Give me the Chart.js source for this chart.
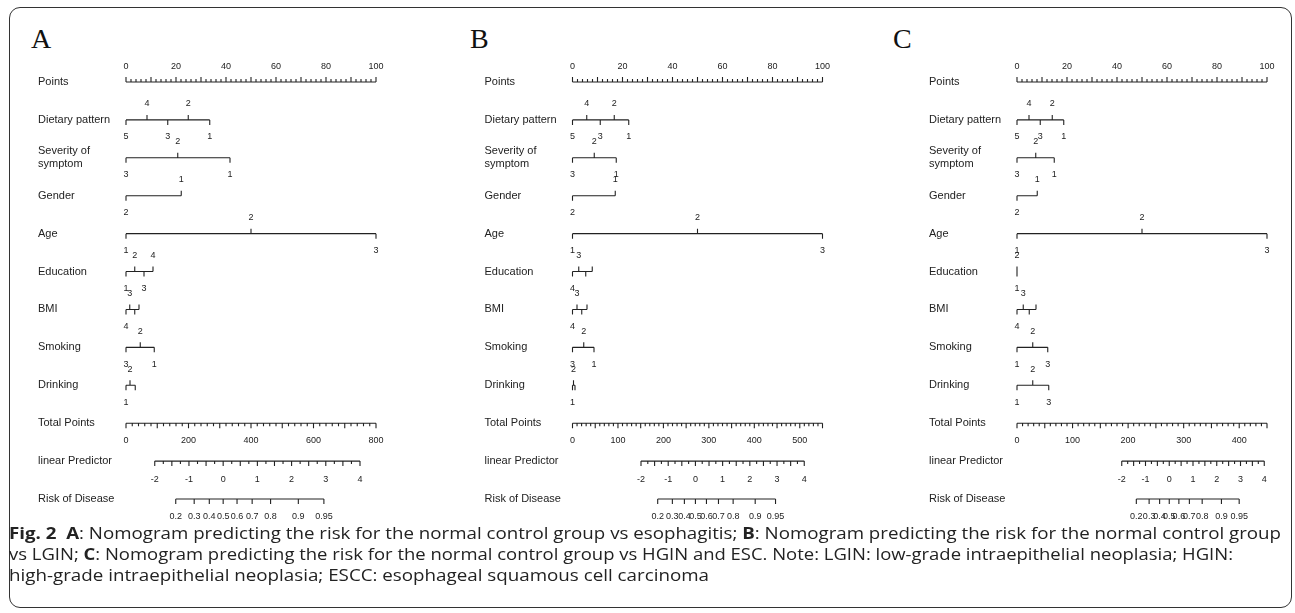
<!DOCTYPE html>
<html>
<head>
<meta charset="utf-8">
<script src="https://cdn.jsdelivr.net/npm/chart.js@4.4.1/dist/chart.umd.min.js"></script>
<style>
body{margin:0;background:#fff;width:1295px;height:613px;overflow:hidden;position:relative;}
#frame{position:absolute;left:9px;top:7px;width:1283px;height:601px;border:1.3px solid #333;border-radius:11px;box-sizing:border-box;}
canvas{position:absolute;top:0;}
.letter{position:absolute;top:25px;font-family:"Liberation Serif","Times New Roman",serif;font-size:28px;line-height:28px;color:#111;}
.cap{position:absolute;left:9px;white-space:nowrap;font-family:"Open Sans",sans-serif;font-size:16px;line-height:20px;color:#222;transform-origin:0 50%;}
</style>
</head>
<body>
<div id="frame"></div>
<div class="letter" style="left:31px">A</div>
<div class="letter" style="left:470px">B</div>
<div class="letter" style="left:893px">C</div>
<canvas id="nomoA" width="440" height="530" style="left:0px"></canvas>
<canvas id="nomoB" width="440" height="530" style="left:440px"></canvas>
<canvas id="nomoC" width="415" height="530" style="left:880px"></canvas>
<div class="cap" id="cap1" style="top:523px"><b>Fig. 2</b>&nbsp;&nbsp;<b>A</b>: Nomogram predicting the risk for the normal control group vs esophagitis; <b>B</b>: Nomogram predicting the risk for the normal control group</div>
<div class="cap" id="cap2" style="top:544px">vs LGIN; <b>C</b>: Nomogram predicting the risk for the normal control group vs HGIN and ESC. Note: LGIN: low-grade intraepithelial neoplasia; HGIN:</div>
<div class="cap" id="cap3" style="top:565px">high-grade intraepithelial neoplasia; ESCC: esophageal squamous cell carcinoma</div>
<script>
console.log("nomogram");
// row names, top to bottom
const rowNames = ['Points', 'Dietary pattern', 'Severity of\nsymptom', 'Gender', 'Age', 'Education',
    'BMI', 'Smoking', 'Drinking', 'Total Points', 'linear Predictor', 'Risk of Disease'];
const pointLabels = [0, 20, 40, 60, 80, 100];
const lpLabels = [-2, -1, 0, 1, 2, 3, 4];
const riskLabels = [0.2, 0.3, 0.4, 0.5, 0.6, 0.7, 0.8, 0.9, 0.95];
const totalLabelsA = [0, 200, 400, 600, 800];
const totalLabelsB = [0, 100, 200, 300, 400, 500];
const totalLabelsC = [0, 100, 200, 300, 400];

// levels: [label, points, side] ('u' label above, 'd' label below)
const dietA = [['5', 0, 'd'], ['4', 8.4, 'u'], ['3', 16.7, 'd'], ['2', 24.9, 'u'], ['1', 33.5, 'd']];
const severityA = [['3', 0, 'd'], ['2', 20.7, 'u'], ['1', 41.6, 'd']];
const genderA = [['2', 0, 'd'], ['1', 22.1, 'u']];
const ageA = [['1', 0, 'd'], ['2', 50, 'u'], ['3', 100, 'd']];
const educationA = [['1', 0, 'd'], ['2', 3.5, 'u'], ['3', 7.2, 'd'], ['4', 10.8, 'u']];
const bmiA = [['4', 0, 'd'], ['3', 1.5, 'u'], ['', 3.5, 'd'], ['', 5.2, 'u']];
const smokingA = [['3', 0, 'd'], ['2', 5.7, 'u'], ['1', 11.3, 'd']];
const drinkingA = [['1', 0, 'd'], ['2', 1.6, 'u'], ['', 3.7, 'd']];

const dietB = [['5', 0, 'd'], ['4', 5.7, 'u'], ['3', 11.1, 'd'], ['2', 16.7, 'u'], ['1', 22.5, 'd']];
const severityB = [['3', 0, 'd'], ['2', 8.7, 'u'], ['1', 17.5, 'd']];
const genderB = [['2', 0, 'd'], ['1', 17.1, 'u']];
const ageB = [['1', 0, 'd'], ['2', 50, 'u'], ['3', 100, 'd']];
const educationB = [['4', 0, 'd'], ['3', 2.5, 'u'], ['', 5.3, 'd'], ['', 7.9, 'u']];
const bmiB = [['4', 0, 'd'], ['3', 1.8, 'u'], ['', 3.7, 'd'], ['', 5.8, 'u']];
const smokingB = [['3', 0, 'd'], ['2', 4.5, 'u'], ['1', 8.6, 'd']];
const drinkingB = [['1', 0, 'd'], ['2', 0.4, 'u'], ['', 1.0, 'd']];

const dietC = [['5', 0, 'd'], ['4', 4.8, 'u'], ['3', 9.3, 'd'], ['2', 14.1, 'u'], ['1', 18.7, 'd']];
const severityC = [['3', 0, 'd'], ['2', 7.5, 'u'], ['1', 14.9, 'd']];
const genderC = [['2', 0, 'd'], ['1', 8.1, 'u']];
const ageC = [['1', 0, 'd'], ['2', 50, 'u'], ['3', 100, 'd']];
const educationC = [['2', 0, 'u'], ['1', 0, 'd']];
const bmiC = [['4', 0, 'd'], ['3', 2.5, 'u'], ['', 4.9, 'd'], ['', 7.6, 'u']];
const smokingC = [['1', 0, 'd'], ['2', 6.3, 'u'], ['3', 12.3, 'd']];
const drinkingC = [['1', 0, 'd'], ['2', 6.3, 'u'], ['3', 12.7, 'd']];

// total points max and where the linear predictor axis sits on the points scale
const panels = [
    {id: 'nomoA', left: 126, right: 64, vars: [dietA, severityA, genderA, ageA, educationA, bmiA, smokingA, drinkingA],
        totalMax: 800, totalLabels: totalLabelsA, totalStep: 20, totalMajor: 100, lpFrom: 11.5, lpTo: 93.6},
    {id: 'nomoB', left: 132.5, right: 57.5, vars: [dietB, severityB, genderB, ageB, educationB, bmiB, smokingB, drinkingB],
        totalMax: 550, totalLabels: totalLabelsB, totalStep: 10, totalMajor: 50, lpFrom: 27.4, lpTo: 92.7},
    {id: 'nomoC', left: 137, right: 28, vars: [dietC, severityC, genderC, ageC, educationC, bmiC, smokingC, drinkingC],
        totalMax: 450, totalLabels: totalLabelsC, totalStep: 10, totalMajor: 50, lpFrom: 41.9, lpTo: 98.9}
];

const ROWPX = 417 / 11;
const TICK = 5 / ROWPX;
const INK = '#222';

function seg(out, x1, y1, x2, y2) {
    out.push({x: x1, y: y1}, {x: x2, y: y2}, {x: x2, y: null});
}
function lpPts(pn, lp) {
    const lo = lpLabels[0], hi = lpLabels[lpLabels.length - 1];
    return pn.lpFrom + (lp - lo) / (hi - lo) * (pn.lpTo - pn.lpFrom);
}
function riskPts(pn, p) {
    return lpPts(pn, Math.log(p / (1 - p)));
}

function buildLines(pn) {
    const s = [];
    // Points axis, ticks up
    seg(s, 0, 0, 100, 0);
    for (let i = 0; i <= 50; i++) {
        const v = i * 2;
        seg(s, v, 0, v, -(v % 10 === 0 ? 5 : 3) / ROWPX);
    }
    // predictors
    pn.vars.forEach((lv, i) => {
        const r = i + 1;
        const xs = lv.map(l => l[1]);
        seg(s, Math.min(...xs), r, Math.max(...xs), r);
        lv.forEach(l => seg(s, l[1], r, l[1], r + (l[2] === 'u' ? -TICK : TICK)));
    });
    // Total Points, ticks down
    seg(s, 0, 9, 100, 9);
    const n = Math.round(pn.totalMax / pn.totalStep);
    for (let i = 0; i <= n; i++) {
        const v = i * pn.totalStep;
        const x = v / pn.totalMax * 100;
        seg(s, x, 9, x, 9 + (v % pn.totalMajor === 0 ? 5 : 3) / ROWPX);
    }
    // linear Predictor
    seg(s, lpPts(pn, -2), 10, lpPts(pn, 4), 10);
    for (let i = 0; i <= 24; i++) {
        const v = -2 + i * 0.25;
        seg(s, lpPts(pn, v), 10, lpPts(pn, v), 10 + (i % 2 === 0 ? 5 : 3) / ROWPX);
    }
    // Risk of Disease
    seg(s, riskPts(pn, riskLabels[0]), 11, riskPts(pn, riskLabels[riskLabels.length - 1]), 11);
    riskLabels.forEach(p => seg(s, riskPts(pn, p), 11, riskPts(pn, p), 11 + TICK));
    return s;
}

function textPlugin(pn) {
    return {
        id: 'nomoText',
        afterDatasetsDraw(chart) {
            const ctx = chart.ctx;
            const xs = chart.scales.x, ys = chart.scales.y;
            const area = chart.chartArea;
            ctx.save();
            ctx.fillStyle = INK;
            ctx.textBaseline = 'middle';
            // row names
            ctx.font = '11px "Liberation Sans", Arial, sans-serif';
            ctx.textAlign = 'left';
            rowNames.forEach((name, r) => {
                const y = ys.getPixelForValue(r);
                const parts = name.split('\n');
                if (parts.length === 2) {
                    ctx.fillText(parts[0], area.left - 88, y - 6.5);
                    ctx.fillText(parts[1], area.left - 88, y + 6.5);
                } else {
                    ctx.fillText(name, area.left - 88, y);
                }
            });
            ctx.font = '9px "Liberation Sans", Arial, sans-serif';
            ctx.textAlign = 'center';
            pointLabels.forEach(v => ctx.fillText(String(v), xs.getPixelForValue(v), ys.getPixelForValue(0) - 15.5));
            pn.vars.forEach((lv, i) => {
                const y = ys.getPixelForValue(i + 1);
                lv.forEach(l => {
                    if (l[0]) ctx.fillText(l[0], xs.getPixelForValue(l[1]), y + (l[2] === 'u' ? -16 : 17));
                });
            });
            pn.totalLabels.forEach(v => ctx.fillText(String(v), xs.getPixelForValue(v / pn.totalMax * 100), ys.getPixelForValue(9) + 17));
            lpLabels.forEach(v => ctx.fillText(String(v), xs.getPixelForValue(lpPts(pn, v)), ys.getPixelForValue(10) + 18));
            riskLabels.forEach(p => ctx.fillText(String(p), xs.getPixelForValue(riskPts(pn, p)), ys.getPixelForValue(11) + 17.5));
            ctx.restore();
        }
    };
}

panels.forEach(pn => {
    const c = document.getElementById(pn.id);
    new Chart(c.getContext('2d'), {
        type: 'line',
        data: {
            datasets: [{
                data: buildLines(pn),
                borderColor: INK,
                borderWidth: 1.1,
                pointRadius: 0,
                fill: false,
                tension: 0,
                spanGaps: false,
                clip: false
            }]
        },
        options: {
            responsive: false,
            animation: false,
            devicePixelRatio: 1,
            events: [],
            layout: {padding: {left: pn.left, right: pn.right, top: 82, bottom: 31}},
            scales: {
                x: {type: 'linear', min: 0, max: 100, display: false},
                y: {type: 'linear', min: 0, max: 11, reverse: true, display: false}
            },
            plugins: {legend: {display: false}, tooltip: {enabled: false}}
        },
        plugins: [textPlugin(pn)]
    });
});

// stretch caption lines to the reference line widths
const capWidths = {cap1: 1272, cap2: 1224, cap3: 700};
function fitCaps() {
    Object.keys(capWidths).forEach(id => {
        const el = document.getElementById(id);
        el.style.transform = 'none';
        const w = el.getBoundingClientRect().width;
        el.style.transform = 'scaleX(' + (capWidths[id] / w) + ')';
    });
}
fitCaps();
if (document.fonts) document.fonts.ready.then(fitCaps);
</script>
</body>
</html>
